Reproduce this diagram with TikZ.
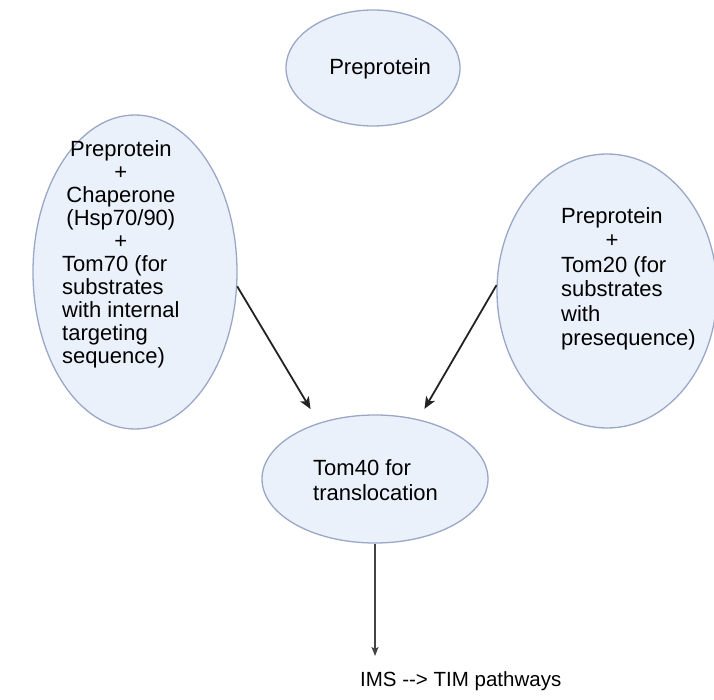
\documentclass[tikz,border=0pt]{standalone}
\usepackage{fontspec}
\setmainfont{Liberation Sans}
\usepackage{calc}
\usetikzlibrary{shapes.geometric,arrows.meta}
\definecolor{bubblefill}{HTML}{EBF1FB}
\definecolor{bubbleline}{HTML}{9AA7C6}
\definecolor{arrowink}{HTML}{232323}
\newcommand{\midline}[2]{\makebox[\widthof{#1}]{#2}}

\begin{document}
\begin{tikzpicture}[x=1pt,y=-1pt,
  bubble/.style={ellipse,draw=bubbleline,line width=1.3pt,fill=bubblefill,inner sep=0pt},
  caption/.style={inner sep=0pt,align=left,font=\fontsize{22}{24.5}\selectfont},
  flow/.style={-{Stealth[length=12pt,width=10pt,inset=3pt]},line width=1.8pt,draw=arrowink},
  thinflow/.style={-{Stealth[length=9pt,width=7pt,inset=2pt]},line width=1.1pt,draw=arrowink!85}]
\useasboundingbox (0,0) rectangle (714,700);
\node[bubble,minimum width=174pt,minimum height=116pt] (pre) at (373,68) {};
\node[caption] (pretext) at (380,69) {Preprotein};
\node[bubble,minimum width=204pt,minimum height=314pt] (chap) at (135,272) {};
\node[caption,anchor=west,font=\fontsize{22}{23}\selectfont] (chaptext) at (62,254) {\midline{with internal}{Preprotein}\\\midline{with internal}{+}\\\midline{with internal}{Chaperone}\\\midline{with internal}{(Hsp70/90)}\\\midline{with internal}{+}\\Tom70 (for\\substrates\\with internal\\targeting\\sequence)};
\node[bubble,minimum width=220pt,minimum height=274pt] (tom20) at (607,291) {};
\node[caption,anchor=west] (tom20text) at (561,279) {Preprotein\\\midline{Preprotein}{+}\\Tom20 (for\\substrates\\with\\presequence)};
\node[bubble,minimum width=226pt,minimum height=128pt] (tom40) at (375,479) {};
\node[caption,anchor=west] (tom40text) at (313,480) {Tom40 for\\translocation};
\node[caption,anchor=base west,font=\fontsize{20.5}{24}\selectfont] (ims) at (360,686) {IMS {-}{-}> TIM pathways};
\draw[flow,shorten >=16pt] (chap.-8) -- (tom40.135);
\draw[flow,shorten >=12pt] (tom20.177) -- (tom40.54);
\draw[thinflow,shorten >=15pt] (tom40.south) -- (tom40.south |- ims.north);
\end{tikzpicture}
\end{document}
